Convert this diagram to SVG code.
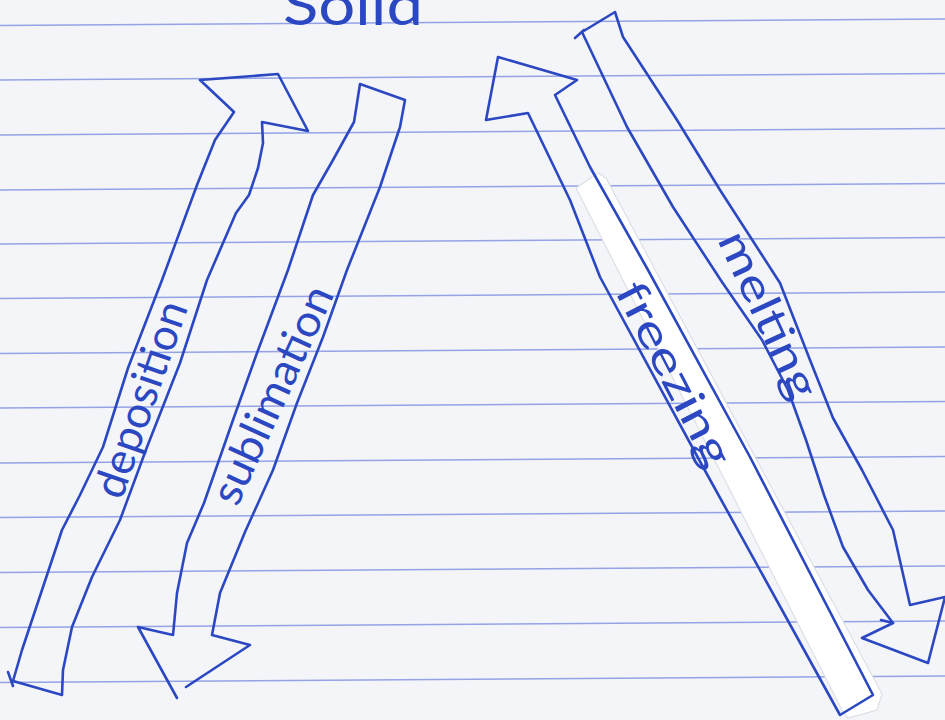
<svg xmlns="http://www.w3.org/2000/svg" width="945" height="720" viewBox="0 0 945 720">
  <style>
    .rule { stroke: #93a3e6; stroke-width: 1.6; fill: none; }
    .pen { stroke: #2b48c2; stroke-width: 2.6; fill: none; stroke-linejoin: round; stroke-linecap: round; }
    .hand { font-family: Lato, "Liberation Sans", "DejaVu Sans", sans-serif; font-weight: 400; fill: #2b48c2; }
  </style>
  <rect x="0" y="0" width="945" height="720" fill="#f4f5f8"/>
  <g id="paper">
    <line class="rule" x1="0" y1="25.5" x2="945" y2="19"/>
    <line class="rule" x1="0" y1="80" x2="945" y2="73.5"/>
    <line class="rule" x1="0" y1="135" x2="945" y2="128.5"/>
    <line class="rule" x1="0" y1="190" x2="945" y2="183.5"/>
    <line class="rule" x1="0" y1="244" x2="945" y2="237.5"/>
    <line class="rule" x1="0" y1="298.5" x2="945" y2="292"/>
    <line class="rule" x1="0" y1="353.5" x2="945" y2="347"/>
    <line class="rule" x1="0" y1="408" x2="945" y2="401.5"/>
    <line class="rule" x1="0" y1="463" x2="945" y2="456.5"/>
    <line class="rule" x1="0" y1="517.5" x2="945" y2="511"/>
    <line class="rule" x1="0" y1="572.5" x2="945" y2="566"/>
    <line class="rule" x1="0" y1="627.5" x2="945" y2="621"/>
    <line class="rule" x1="0" y1="682.5" x2="945" y2="676"/>
  </g>
  <g id="tape">
    <polygon points="576,188 598,173 606,178 882,694 877,710 848,718 843,712" fill="#ffffff" stroke="#dcdfe6" stroke-width="1.2"/>
  </g>
  <g id="solid">
    <text class="hand" x="283" y="25" font-size="56" textLength="140" lengthAdjust="spacingAndGlyphs">Solid</text>
  </g>
  <g id="connectors">
    <g id="deposition">
      <path class="pen" d="M 62,695 L 13,681 L 22,650 L 42,590 L 62,530 L 80,495 L 103,447 L 128,368 L 162,280 L 197,185 L 215,140 L 234,112 L 200,80 L 278,74 L 308,131 L 262,122 L 263,143 L 258,168 L 249,195 L 236,213 L 207,280 L 180,363 L 147,447 L 120,520 L 92,577 L 72,627 L 63,670 Z"/>
      <path class="pen" d="M 8,672 L 13,686"/>
      <text class="hand" font-size="44" text-anchor="middle" transform="translate(155,404) rotate(-71)" x="0" y="0" textLength="205" lengthAdjust="spacingAndGlyphs">deposition</text>
    </g>
    <g id="sublimation">
      <path class="pen" d="M 177,698 L 138,627 L 173,635 L 177,593 L 187,543 L 204,503 L 233,420 L 257,353 L 288,270 L 313,195 L 333,160 L 354,122 L 360,84 L 405,100 L 400,127 L 380,187 L 347,270 L 323,337 L 297,403 L 273,470 L 245,532 L 220,593 L 212,635 L 250,645 L 186,687"/>
      <text class="hand" font-size="44" text-anchor="middle" transform="translate(286,401) rotate(-65.5)" x="0" y="0" textLength="235" lengthAdjust="spacingAndGlyphs">sublimation</text>
    </g>
    <g id="freezing">
      <path class="pen" d="M 840,715 L 703,467 L 600,277 L 570,200 L 528,113 L 486,120 L 498,57 L 577,80 L 555,95 L 590,167 L 648,270 L 750,457 L 873,695 Z"/>
      <text class="hand" font-size="44" text-anchor="middle" transform="translate(661,381) rotate(62.6)" x="0" y="0" textLength="202" lengthAdjust="spacingAndGlyphs">freezing</text>
    </g>
    <g id="melting">
      <path class="pen" d="M 893,623 L 862,638 L 928,663 L 945,597 L 910,605 L 893,530 L 862,470 L 833,418 L 810,360 L 780,283 L 720,190 L 677,120 L 623,37 L 615,12 L 582,32 L 627,127 L 673,207 L 722,282 L 762,340 L 788,390 L 806,440 L 824,495 L 843,547 L 868,590 L 893,623"/>
      <path class="pen" d="M 575,38 L 584,30 M 881,620 L 893,623"/>
      <text class="hand" font-size="44" text-anchor="middle" transform="translate(755,321) rotate(65.1)" x="0" y="0" textLength="180" lengthAdjust="spacingAndGlyphs">melting</text>
    </g>
  </g>
</svg>
